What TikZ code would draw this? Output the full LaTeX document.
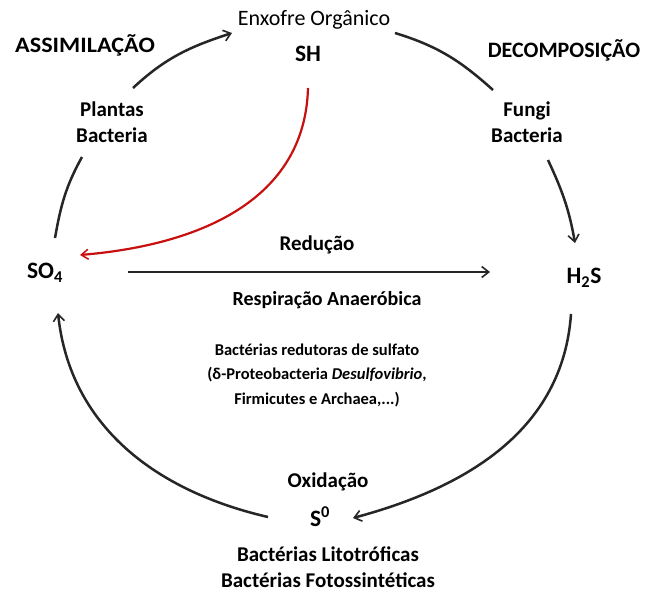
\documentclass[tikz,border=0pt]{standalone}
\usepackage{fontspec}
\setmainfont{Carlito}
\usetikzlibrary{arrows.meta}
\begin{document}
\begin{tikzpicture}[x=1pt,y=1pt,
  lbl/.style={font=\bfseries\fontsize{21}{26.5}\selectfont, align=center, inner sep=0pt},
  chem/.style={font=\bfseries\fontsize{23.5}{28}\selectfont, align=center, inner sep=0pt},
  head/.style={font=\bfseries\fontsize{22}{26}\selectfont, align=center, inner sep=0pt},
  lblr/.style={font=\fontsize{22}{26}\selectfont, align=center, inner sep=0pt},
  small/.style={font=\bfseries\fontsize{16.5}{24.5}\selectfont, align=center, inner sep=0pt},
  cyc/.style={draw=black!85, line width=2.5pt},
  tip/.style={-{Straight Barb[length=7pt,width=11pt,line width=1.6pt]}},
  redarr/.style={draw={rgb,255:red,200;green,16;blue,16}, line width=2.2pt,
     -{Straight Barb[length=7pt,width=10pt,line width=1.5pt]}}]
\useasboundingbox[fill=white] (0,0) rectangle (665,-592);
% labels
\node[lblr] (enx) at (314,-20) {Enxofre Orgânico};
\node[chem] (sh) at (308,-54) {SH};
\node[head] (assim) at (85,-45) {\scalebox{1.1}[1]{ASSIMILAÇÃO}};
\node[head] (decomp) at (564,-50) {DECOMPOSIÇÃO};
\node[lbl] (plantas) at (112,-122) {Plantas\\Bacteria};
\node[lbl] (fungi) at (527,-122) {Fungi\\Bacteria};
\node[chem] (so4) at (45,-273) {SO\textsubscript{4}};
\node[chem] (h2s) at (584,-278) {H\textsubscript{2}S};
\node[lbl] (red) at (317,-245) {Redução};
\node[lbl, font=\bfseries\fontsize{20}{24}\selectfont] (resp) at (327,-300) {Respiração Anaeróbica};
\node[small] (bact) at (317,-375) {Bactérias redutoras de sulfato\\(δ-Proteobacteria \textit{Desulfovibrio},\\Firmicutes e Archaea,...)};
\node[lbl] (oxid) at (328,-482) {Oxidação};
\node[chem] (s0) at (320,-517) {S\textsuperscript{0}};
\node[lbl] (lito) at (328,-567) {Bactérias Litotróficas\\Bactérias Fotossintéticas};
% cycle end points
\coordinate (a1s) at (133,-88);
\coordinate (a1e) at (232,-33);
\coordinate (a2s) at (395,-33);
\coordinate (a2e) at (493,-90);
\coordinate (a3s) at (548,-160);
\coordinate (a3e) at (575,-243);
\coordinate (a4s) at (571,-314);
\coordinate (a4e) at (353,-518);
\coordinate (a5s) at (268,-517);
\coordinate (a5e) at (58,-313);
\coordinate (a6s) at (55,-238);
\coordinate (a6e) at (82,-157);
\coordinate (hs) at (128,-272);
\coordinate (he) at (490,-272);
\coordinate (rs) at (308,-88);
\coordinate (re) at (80,-255);
% cycle arcs
\draw[cyc,tip] (a1s) to[out=43,in=198] (a1e);
\draw[cyc] (a2s) to[out=-17,in=138] (a2e);
\draw[cyc,tip] (a3s) to[out=-65,in=100] (a3e);
\draw[cyc,tip] (a4s) to[out=-94,in=15] (a4e);
\draw[cyc,tip] (a5s) to[out=167,in=-84] (a5e);
\draw[cyc] (a6s) to[out=80,in=241] (a6e);
% horizontal reduction arrow
\draw[cyc,tip] (hs) -- (he);
% red arrow
\draw[redarr] (rs) .. controls (305,-200) and (200,-245) .. (re);
\end{tikzpicture}
\end{document}
